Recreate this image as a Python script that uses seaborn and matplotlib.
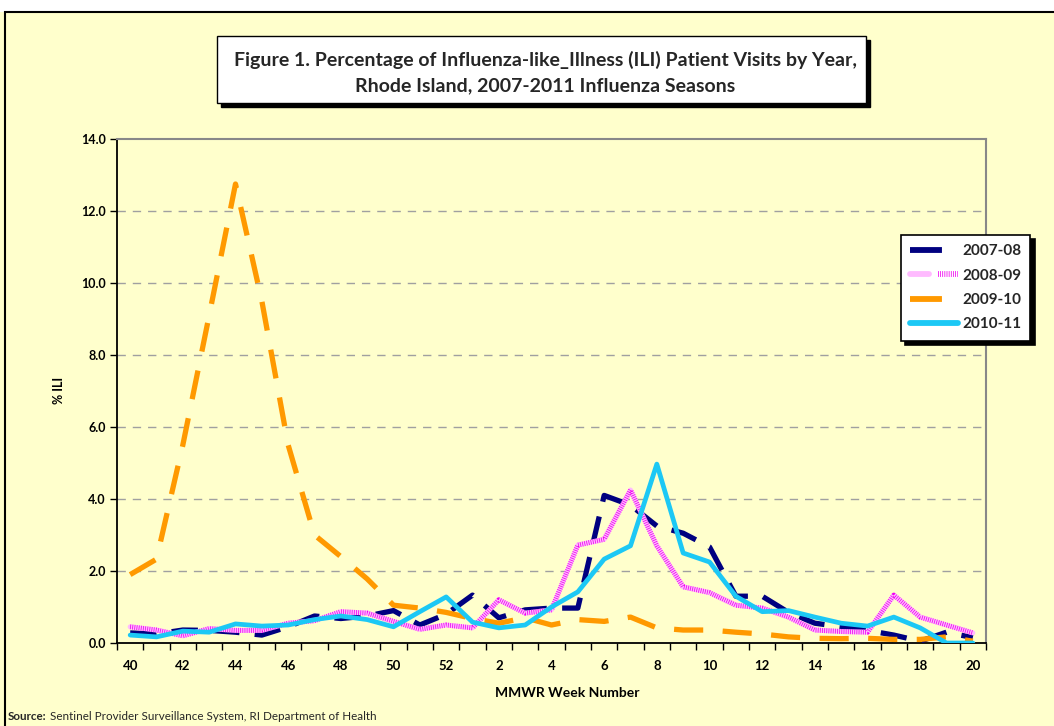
import matplotlib
matplotlib.use('Agg')
import matplotlib.pyplot as plt
from matplotlib.patches import Rectangle
from matplotlib.lines import Line2D
from matplotlib.legend_handler import HandlerTuple
import seaborn as sns
import numpy as np

# MMWR weeks of the flu season (week 40 of one year to week 20 of the next)
weeks = [40, 41, 42, 43, 44, 45, 46, 47, 48, 49, 50, 51, 52,
         1, 2, 3, 4, 5, 6, 7, 8, 9, 10, 11, 12, 13, 14, 15, 16, 17, 18, 19, 20]

ili_2007_08 = [0.28, 0.25, 0.36, 0.35, 0.30, 0.22, 0.45, 0.75, 0.68, 0.75, 0.90, 0.50, 0.80,
               1.33, 0.70, 0.92, 0.97, 0.97, 4.10, 3.83, 3.25, 3.05, 2.67, 1.30, 1.30,
               0.85, 0.55, 0.45, 0.35, 0.22, 0.05, 0.30, 0.15]
ili_2008_09 = [0.45, 0.36, 0.20, 0.40, 0.35, 0.35, 0.55, 0.62, 0.87, 0.83, 0.60, 0.38, 0.50,
               0.42, 1.20, 0.83, 0.92, 2.72, 2.88, 4.25, 2.70, 1.56, 1.40, 1.05, 0.97,
               0.72, 0.36, 0.32, 0.30, 1.33, 0.72, 0.50, 0.28]
ili_2009_10 = [1.90, 2.33, 5.50, 9.10, 12.75, 9.50, 5.50, 3.00, 2.40, 1.78, 1.05, 0.97, 0.85,
               0.68, 0.55, 0.70, 0.50, 0.65, 0.60, 0.72, 0.42, 0.36, 0.36, 0.30, 0.25,
               0.17, 0.13, 0.12, 0.13, 0.10, 0.10, 0.17, 0.05]
ili_2010_11 = [0.22, 0.17, 0.33, 0.30, 0.53, 0.47, 0.50, 0.65, 0.75, 0.65, 0.45, 0.87, 1.28,
               0.58, 0.42, 0.50, 1.00, 1.42, 2.33, 2.70, 4.97, 2.50, 2.25, 1.30, 0.87,
               0.90, 0.72, 0.55, 0.47, 0.72, 0.42, 0.00, 0.00]

seasons = ['2007-08', '2008-09', '2009-10', '2010-11']
y_ticks = [0, 2, 4, 6, 8, 10, 12, 14]

W, H = 1054, 726
BG = '#FFFFCC'
NAVY = '#000080'
PINK_BG = '#FFBBFF'
PINK_DOT = '#F000F0'
ORANGE = '#FF9900'
CYAN = '#1CC8F5'


def fx(px):
    return px / W


def fy(py):
    return 1 - py / H


sns.set_theme(style='white')
plt.rcParams['font.family'] = ['Lato', 'DejaVu Sans']
plt.rcParams['lines.scale_dashes'] = False

fig = plt.figure(figsize=(W / 100, H / 100), dpi=100, facecolor=BG)
ax = fig.add_axes([fx(117), fy(643), fx(986) - fx(117), fy(139) - fy(643)])
ax.set_facecolor(BG)

pos = np.arange(len(weeks))

sns.lineplot(x=pos, y=ili_2007_08, ax=ax, color=NAVY, linewidth=3.8,
             linestyle=(0, (19, 11)), legend=False, zorder=3)
sns.lineplot(x=pos, y=ili_2008_09, ax=ax, color=PINK_BG, linewidth=3.6,
             legend=False, zorder=3)
sns.lineplot(x=pos, y=ili_2008_09, ax=ax, color=PINK_DOT, linewidth=3.6,
             linestyle=(0, (0.55, 1.0)), legend=False, zorder=3)
sns.lineplot(x=pos, y=ili_2009_10, ax=ax, color=ORANGE, linewidth=3.8,
             linestyle=(0, (21, 14)), legend=False, zorder=3)
sns.lineplot(x=pos, y=ili_2010_11, ax=ax, color=CYAN, linewidth=3.4,
             legend=False, zorder=3)

ax.set_xlim(-0.5, len(weeks) - 0.5)
ax.set_ylim(0, 14)

# category axis: labels every other week, tick marks between categories
ax.set_xticks(pos[::2])
ax.set_xticklabels([str(w) for w in weeks[::2]], fontsize=9.5, fontweight='bold')
ax.set_xticks(np.arange(-0.5, len(weeks)), minor=True)
ax.tick_params(axis='x', which='major', length=0, pad=12, colors='black')
ax.tick_params(axis='x', which='minor', length=5, width=1, direction='out',
               color='black', bottom=True)

ax.set_yticks(y_ticks)
ax.set_yticklabels(['%.1f' % t for t in y_ticks], fontsize=9, fontweight='bold')
ax.tick_params(axis='y', which='major', length=5, width=1, direction='out',
               color='black', left=True, pad=3, colors='black')

ax.grid(False)
for t in y_ticks[1:-1]:
    ax.axhline(t, color='#A0A0A0', linewidth=1, linestyle=(0, (6, 5)), zorder=1)

for side in ['left', 'bottom']:
    ax.spines[side].set_color('black')
    ax.spines[side].set_linewidth(1.3)
for side in ['top', 'right']:
    ax.spines[side].set_color('#888888')
    ax.spines[side].set_linewidth(1.5)
    ax.spines[side].set_visible(True)

ax.set_xlabel('MMWR Week Number', fontsize=10, fontweight='bold', color='black')
ax.xaxis.set_label_coords((567 - 117) / 869, (643 - 687) / 504)
ax.set_ylabel('% ILI', fontsize=9, fontweight='bold', color='black')
ax.yaxis.set_label_coords((65 - 117) / 869, (643 - 390) / 504)

# legend
h_navy = Line2D([], [], color=NAVY, linewidth=4.2, linestyle=(0, (23, 60)))
h_pink = (Line2D([], [], color=PINK_BG, linewidth=4.2),
          Line2D([], [], color=PINK_DOT, linewidth=4.2, linestyle=(0, (0.55, 1.0))))
h_orange = Line2D([], [], color=ORANGE, linewidth=4.2, linestyle=(0, (23, 60)))
h_cyan = Line2D([], [], color=CYAN, linewidth=4.2, solid_capstyle='round')
leg = ax.legend([h_navy, h_pink, h_orange, h_cyan], seasons,
                handler_map={tuple: HandlerTuple(ndivide=None)},
                loc='upper left', bbox_to_anchor=(fx(901), fy(235)),
                bbox_transform=fig.transFigure, borderaxespad=0,
                prop={'size': 11, 'weight': 'bold'}, handlelength=3.1,
                handletextpad=0.3, borderpad=0.6, labelspacing=0.68,
                frameon=True, fancybox=False, framealpha=1, facecolor='white',
                edgecolor='black',
                shadow={'ox': 3, 'oy': -3, 'facecolor': 'black',
                        'edgecolor': 'black', 'alpha': 1})
leg.get_frame().set_linewidth(1.2)

# title box with drop shadow
fig.patches.append(Rectangle((fx(221), fy(107)), fx(866) - fx(217), fy(36) - fy(103),
                             transform=fig.transFigure, facecolor='black',
                             edgecolor='black', zorder=2))
fig.patches.append(Rectangle((fx(217), fy(103)), fx(866) - fx(217), fy(36) - fy(103),
                             transform=fig.transFigure, facecolor='white',
                             edgecolor='black', linewidth=1, zorder=3))
fig.text(fx(545), fy(60), 'Figure 1. Percentage of Influenza-like_Illness (ILI) Patient Visits by Year,',
         ha='center', va='center', fontsize=14, fontweight='bold', zorder=4)
fig.text(fx(545), fy(86), 'Rhode Island, 2007-2011 Influenza Seasons',
         ha='center', va='center', fontsize=14, fontweight='bold', zorder=4)

# outer chart border and the white strip of the page above it
fig.patches.append(Rectangle((0, fy(12)), 1, 1 - fy(12), transform=fig.transFigure,
                             facecolor='white', edgecolor='none', zorder=1))
fig.patches.append(Rectangle((fx(5), fy(800)), fx(1200), fy(12) - fy(800),
                             transform=fig.transFigure, facecolor='none',
                             edgecolor='black', linewidth=1.5, zorder=1))

src = fig.text(fx(8), fy(717), 'Source:', ha='left', va='center', fontsize=8.4,
               fontweight='bold')
ax.annotate(' Sentinel Provider Surveillance System, RI Department of Health',
            xy=(1, 0), xycoords=src, va='bottom', ha='left', fontsize=8.4,
            annotation_clip=False)

fig.savefig('out.png', dpi=100, facecolor=BG)
